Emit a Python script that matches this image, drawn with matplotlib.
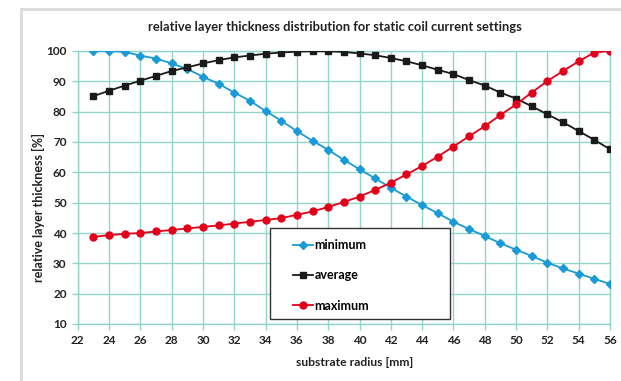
import numpy as np
import matplotlib
matplotlib.use("Agg")
import matplotlib.pyplot as plt
from matplotlib.lines import Line2D
from matplotlib.patches import Rectangle

plt.rcParams['font.family'] = ['Lato', 'DejaVu Sans']

# data
radius = list(range(23, 57))
minimum = [100.0, 100.0, 99.7, 98.5, 97.5, 95.9, 94.1, 91.5, 89.2, 86.3,
           83.6, 80.2, 77.0, 73.6, 70.4, 67.4, 64.1, 61.0, 58.0, 54.9,
           52.0, 49.2, 46.5, 43.7, 41.3, 39.0, 36.6, 34.5, 32.4, 30.2,
           28.3, 26.6, 24.9, 23.2]
average = [85.1, 86.9, 88.6, 90.2, 91.8, 93.4, 94.6, 95.9, 97.0, 97.9,
           98.5, 99.1, 99.5, 99.8, 99.9, 99.9, 99.7, 99.2, 98.6, 97.7,
           96.6, 95.3, 93.8, 92.4, 90.4, 88.6, 86.3, 84.3, 81.8, 79.1,
           76.5, 73.6, 70.7, 67.6]
maximum = [38.7, 39.3, 39.7, 40.0, 40.5, 41.0, 41.5, 42.0, 42.5, 43.1,
           43.7, 44.3, 44.9, 46.0, 47.1, 48.6, 50.2, 52.0, 54.2, 56.6,
           59.3, 62.1, 65.2, 68.5, 71.9, 75.2, 78.9, 82.4, 86.3, 90.1,
           93.4, 96.6, 99.5, 100.0]
series_names = ['minimum', 'average', 'maximum']
x_ticks = list(range(22, 57, 2))
y_ticks = list(range(10, 101, 10))

W, H = 621, 381
fig = plt.figure(figsize=(W / 100, H / 100), dpi=100)
fig.patch.set_facecolor('white')

# gray frame on top and left
fig.add_artist(Line2D([20.5 / W, 1], [1 - 9 / H, 1 - 9 / H], color='#dcdcdc', lw=2.2, transform=fig.transFigure))
fig.add_artist(Line2D([20.5 / W, 20.5 / W], [0, 1 - 9 / H], color='#dcdcdc', lw=2.2, transform=fig.transFigure))

ax = fig.add_axes([77.7 / W, 57 / H, (610 - 77.7) / W, (324 - 51) / H])

grid_c = '#93d5c8'
ax.plot(radius, minimum, color='#1b9ad8', lw=1.3, marker='D', ms=3.6, label=series_names[0], zorder=3)
ax.plot(radius, average, color='#1a1a1a', lw=1.3, marker='s', ms=5, label=series_names[1], zorder=3)
ax.plot(radius, maximum, color='#e2001a', lw=1.3, marker='o', ms=5, label=series_names[2], zorder=3)

ax.set_xlim(22, 56)
ax.set_ylim(10, 100)
ax.set_xticks(x_ticks)
ax.set_yticks(y_ticks)
ax.grid(True, color=grid_c, lw=1.0)
ax.set_axisbelow(True)
for s in ax.spines.values():
    s.set_color(grid_c)
    s.set_linewidth(1.0)
ax.tick_params(colors=grid_c, length=4, width=1.0, labelcolor='#222222', labelsize=8.5, pad=4)
for lbl in ax.get_xticklabels() + ax.get_yticklabels():
    lbl.set_fontweight('bold')

fig.text(335 / W, 1 - 27 / H, 'relative layer thickness distribution for static coil current settings',
         ha='center', va='center', fontsize=9.3, fontweight='bold', color='#222222')
fig.text(355 / W, 1 - 363 / H, 'substrate radius [mm]', ha='center', va='center',
         fontsize=8.7, fontweight='bold', color='#222222')
fig.text(38 / W, 1 - 208 / H, 'relative layer thickness [%]', ha='center', va='center',
         rotation=90, fontsize=9, fontweight='bold', color='#222222')

# legend box
fig.add_artist(Rectangle((270 / W, 1 - 319 / H), 180 / W, 91 / H, transform=fig.transFigure,
                         facecolor='white', edgecolor='#333333', lw=1.0, zorder=10))
leg = fig.legend(loc='upper left', bbox_to_anchor=(287 / W, 1 - 233 / H), frameon=False,
                 handlelength=1.6, handletextpad=0.1, labelspacing=1.45,
                 borderpad=0, prop={'weight': 'bold', 'size': 9})
leg.set_zorder(11)

fig.savefig('out.png', dpi=100, facecolor='white')
